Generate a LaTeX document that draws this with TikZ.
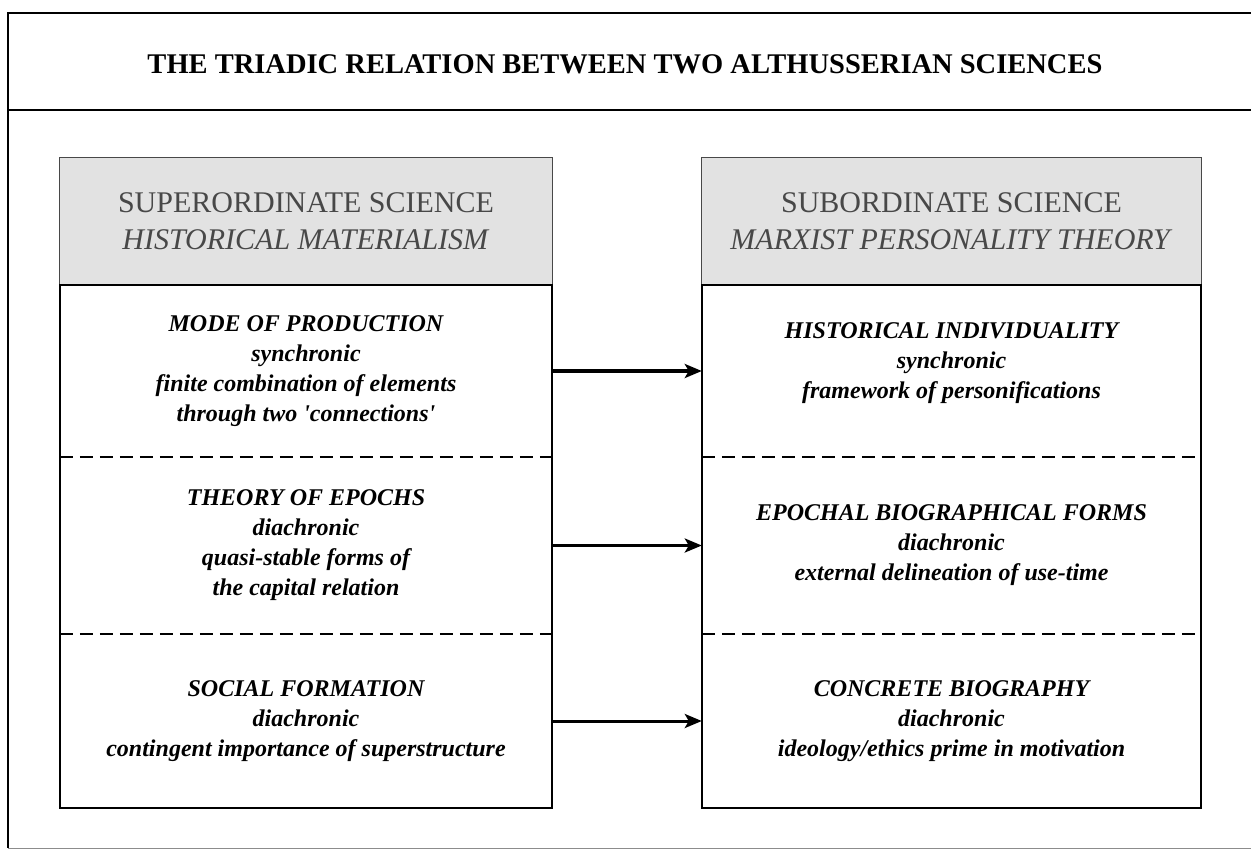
\documentclass[tikz,border=0pt]{standalone}
\usepackage{fontspec}
\setmainfont{Liberation Serif}
\usetikzlibrary{arrows.meta}
\definecolor{headgray}{RGB}{226,226,226}
\definecolor{headink}{RGB}{72,72,72}
\def\rowfont{\fontsize{24}{30}\selectfont\bfseries\itshape}

\begin{document}
\begin{tikzpicture}[x=1pt,y=-1pt,
    headcell/.style={fill=headgray, inner sep=0pt, align=center, minimum height=127pt,
      text=headink, font=\fontsize{30}{37}\selectfont},
    cell/.style={inner sep=0pt, align=center, font=\rowfont},
    sep/.style={line width=1.8pt, dash pattern=on 13pt off 7pt},
    conn/.style={line width=3pt, -{Stealth[length=17pt,width=14pt,inset=4pt]}}]
    \useasboundingbox (0,0) rectangle (1251,854);
    % outer frame and title
    \draw[line width=2.2pt] (1251,13) -- (8,13) -- (8,848);
    \draw[line width=1pt, black!45] (8,848) -- (1251,848);
    \draw[line width=2pt] (8,110) -- (1251,110);
    \node (title) at (625,64) {\fontsize{28.5}{32}\selectfont\bfseries THE TRIADIC RELATION BETWEEN TWO ALTHUSSERIAN SCIENCES};

    % superordinate science
    \node[headcell, minimum width=492pt] (supHead) at (306,221.5) {SUPERORDINATE SCIENCE\\\textit{HISTORICAL MATERIALISM}};
    \node[cell, minimum width=492pt, minimum height=172pt] (supMode) at (306,371)
      {MODE OF PRODUCTION\\synchronic\\finite combination of elements\\through two \textquotesingle connections\textquotesingle};
    \node[cell, minimum width=492pt, minimum height=177pt] (supEpoch) at (306,545.5)
      {THEORY OF EPOCHS\\diachronic\\quasi-stable forms of\\the capital relation};
    \node[cell, minimum width=492pt, minimum height=174pt] (supSocial) at (306,721)
      {SOCIAL FORMATION\\diachronic\\contingent importance of superstructure};

    % subordinate science
    \node[headcell, minimum width=499pt] (subHead) at (951.5,221.5) {SUBORDINATE SCIENCE\\\textit{MARXIST PERSONALITY THEORY}};
    \node[cell, minimum width=499pt, minimum height=172pt] (subHist) at (951.5,371)
      {HISTORICAL INDIVIDUALITY\\synchronic\\framework of personifications\\[-10pt]};
    \node[cell, minimum width=499pt, minimum height=177pt] (subEpoch) at (951.5,545.5)
      {EPOCHAL BIOGRAPHICAL FORMS\\diachronic\\external delineation of use-time};
    \node[cell, minimum width=499pt, minimum height=174pt] (subConc) at (951.5,721)
      {CONCRETE BIOGRAPHY\\diachronic\\ideology/ethics prime in motivation};

    % borders
    \draw[line width=0.9pt, headink] (supHead.north west) rectangle (supHead.south east);
    \draw[line width=0.9pt, headink] (subHead.north west) rectangle (subHead.south east);
    \draw[line width=1.8pt] (supMode.north west) rectangle (supSocial.south east);
    \draw[line width=1.8pt] (subHist.north west) rectangle (subConc.south east);
    \draw[sep] (supMode.south west) -- (supMode.south east);
    \draw[sep] (supEpoch.south west) -- (supEpoch.south east);
    \draw[sep] (subHist.south west) -- (subHist.south east);
    \draw[sep] (subEpoch.south west) -- (subEpoch.south east);

    % arrows
    \draw[conn, line width=4pt] (supMode) -- (subHist);
    \draw[conn] (supEpoch) -- (subEpoch);
    \draw[conn] (supSocial) -- (subConc);
\end{tikzpicture}
\end{document}
